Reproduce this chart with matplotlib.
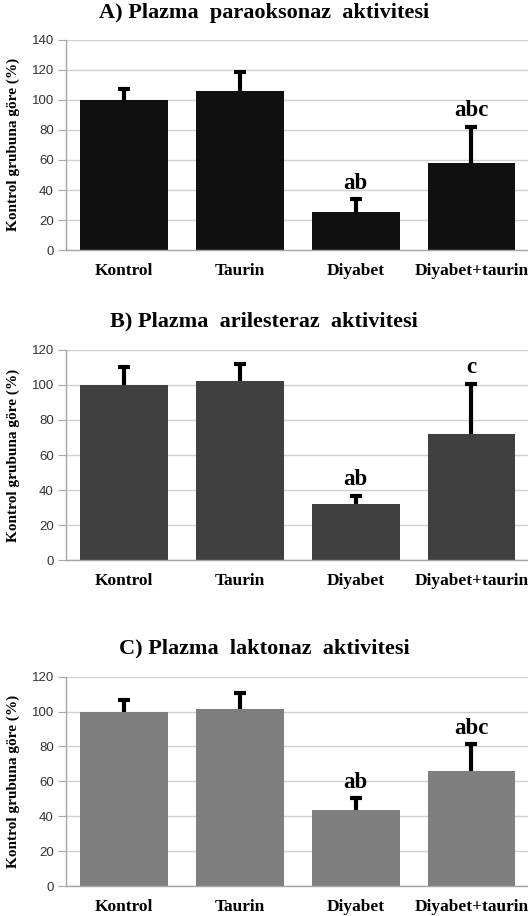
import matplotlib
matplotlib.use("Agg")
import matplotlib.pyplot as plt
import numpy as np

groups = ["Kontrol", "Taurin", "Diyabet", "Diyabet+taurin"]

# panel A: plazma paraoksonaz
pon_vals = [100, 105.8, 25.4, 57.8]
pon_err = [7.0, 12.7, 8.3, 24.4]
pon_sig = ["", "", "ab", "abc"]

# panel B: plazma arilesteraz
aryl_vals = [100, 102.2, 31.9, 72.2]
aryl_err = [10.4, 9.6, 4.8, 28.4]
aryl_sig = ["", "", "ab", "c"]

# panel C: plazma laktonaz
lact_vals = [100, 101.3, 43.9, 65.7]
lact_err = [6.7, 9.4, 6.4, 15.6]
lact_sig = ["", "", "ab", "abc"]

titles = ["A) Plazma  paraoksonaz  aktivitesi",
          "B) Plazma  arilesteraz  aktivitesi",
          "C) Plazma  laktonaz  aktivitesi"]
ylabel = "Kontrol grubuna göre (%)"

SERIF = "Liberation Serif"
SANS = "Liberation Sans"

fig = plt.figure(figsize=(5.28, 9.16), dpi=100)

panels = [
    # vals, err, sig, color, ymax, axes rect, title y
    (pon_vals, pon_err, pon_sig, "#101010", 140, [0.1256, 0.7269, 0.877, 0.2298], 0.986),
    (aryl_vals, aryl_err, aryl_sig, "#404040", 120, [0.1256, 0.3883, 0.877, 0.2298], 0.6485),
    (lact_vals, lact_err, lact_sig, "#7f7f7f", 120, [0.1256, 0.0324, 0.877, 0.2290], 0.2919),
]

x = np.arange(len(groups))
for (vals, err, sig, col, ymax, rect, ty), title in zip(panels, titles):
    ax = fig.add_axes(rect)
    vals = np.array(vals)
    err = np.array(err)
    ax.bar(x, vals, width=0.76, color=col, zorder=2)
    tops = vals + err
    ax.vlines(x, vals, tops, colors="black", lw=3, zorder=3)
    ax.plot(x, tops, ls="none", marker="_", ms=8, mew=3, color="black", zorder=3)
    for xi, t, s in zip(x, tops, sig):
        if s:
            ax.annotate(s, (xi, t), xytext=(0, 4), textcoords="offset points",
                        ha="center", va="bottom", family=SERIF,
                        fontweight="bold", fontsize=16.5)

    ax.set_xlim(-0.5, 3.5)
    ax.set_ylim(0, ymax)
    ax.set_yticks(np.arange(0, ymax + 1, 20))
    ax.yaxis.grid(True, color="#d0d0d0", lw=1)
    ax.set_axisbelow(True)
    for sp in ["top", "right"]:
        ax.spines[sp].set_visible(False)
    for sp in ["left", "bottom"]:
        ax.spines[sp].set_color("#a6a6a6")
        ax.spines[sp].set_linewidth(1)
    ax.tick_params(axis="y", length=6, color="#a6a6a6", pad=3,
                   labelsize=9.5, labelcolor="#333333")
    ax.tick_params(axis="x", length=0, pad=9)
    for lab in ax.get_yticklabels():
        lab.set_family(SANS)
    ax.set_xticks(x)
    ax.set_xticklabels(groups, family=SERIF, fontweight="bold", fontsize=12.5)
    ax.set_ylabel(ylabel, family=SERIF, fontweight="bold", fontsize=11)
    ax.yaxis.set_label_coords(-0.10, 0.5)

    fig.text(0.5, ty, title, ha="center", va="center", family=SERIF,
             fontweight="bold", fontsize=16)

fig.savefig("out.png", dpi=100)
